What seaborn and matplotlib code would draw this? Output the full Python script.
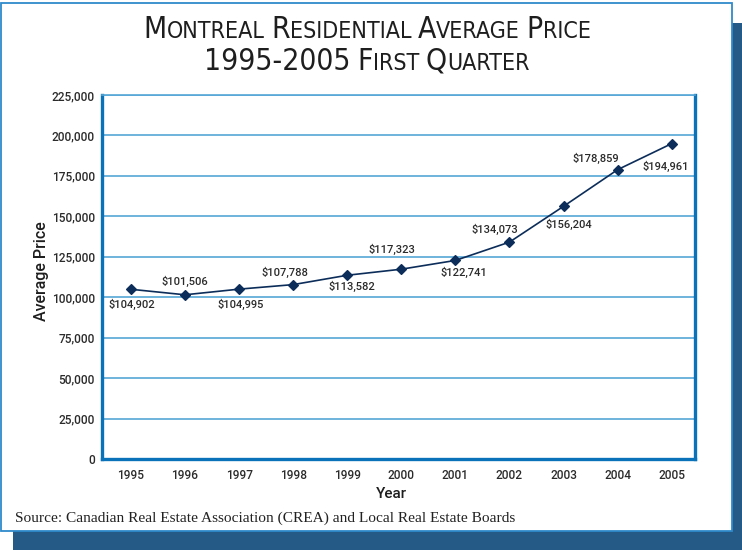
import matplotlib
matplotlib.use("Agg")
import numpy as np
import pandas as pd
import matplotlib.pyplot as plt
import matplotlib.ticker as mticker
from matplotlib import font_manager
from matplotlib.patches import Rectangle
from matplotlib.offsetbox import TextArea, HPacker, AnchoredOffsetbox
import seaborn as sns

# data
years = ['1995', '1996', '1997', '1998', '1999', '2000', '2001', '2002', '2003', '2004', '2005']
prices = [104902, 101506, 104995, 107788, 113582, 117323, 122741, 134073, 156204, 178859, 194961]
y_ticks = [0, 25000, 50000, 75000, 100000, 125000, 150000, 175000, 200000, 225000]

# label offsets in pixels (dx, dy), screen y up
offsets = [(1, -15), (0, 13), (2, -15), (-8, 12), (5, -11), (-9, 20),
           (8, -12), (-15, 13), (5, -18), (-22, 11), (-6, -23)]

sns.set_theme(style="white")
names = {f.name for f in font_manager.fontManager.ttflist}
title_font = 'Liberation Sans Narrow' if 'Liberation Sans Narrow' in names else 'DejaVu Sans'
sans = ['Roboto', 'DejaVu Sans']
plt.rcParams['font.family'] = sans

AXIS_BLUE = '#0a72b8'
GRID_BLUE = '#55a6d6'
LINE_NAVY = '#0c2d5a'
TEXT = '#2b2b2b'

fig = plt.figure(figsize=(7.42, 5.5), dpi=100)
fig.patch.set_facecolor('white')

# shadow and white frame
fig.patches.append(Rectangle((12.7 / 742, 0), 1 - 12.7 / 742, (550 - 22.7) / 550,
                             transform=fig.transFigure, facecolor='#265a86',
                             edgecolor='none', zorder=-3))
fig.patches.append(Rectangle((1 / 742, (550 - 530.7) / 550), 730.7 / 742, 528 / 550,
                             transform=fig.transFigure, facecolor='white',
                             edgecolor='#2f8acb', linewidth=1.3, zorder=-2))

ax = fig.add_axes([101.7 / 742, (550 - 459) / 550, 593.3 / 742, 364 / 550])
df = pd.DataFrame({'Year': years, 'Price': prices})
sns.pointplot(data=df, x='Year', y='Price', order=years, color=LINE_NAVY,
              markers='D', markersize=5, linewidth=1.2, errorbar=None, ax=ax)

ax.set_xlim(-0.54, 10.43)
ax.set_ylim(0, 225000)
ax.set_yticks(y_ticks)
ax.yaxis.set_major_formatter(mticker.StrMethodFormatter('{x:,.0f}'))
ax.grid(axis='y', color=GRID_BLUE, linewidth=1.2)
ax.set_axisbelow(True)

for side in ['left', 'bottom', 'right']:
    ax.spines[side].set_color(AXIS_BLUE)
    ax.spines[side].set_linewidth(2.4)
ax.spines['top'].set_color(GRID_BLUE)
ax.spines['top'].set_linewidth(1.2)

ax.tick_params(axis='y', length=4, width=1.2, color=AXIS_BLUE, pad=1,
               labelsize=8.6, labelcolor=TEXT)
ax.tick_params(axis='x', which='major', length=0, pad=7.5, labelsize=8.6, labelcolor=TEXT)
ax.set_xticks(np.arange(-0.5, 10.5, 1), minor=True)
ax.tick_params(axis='x', which='minor', length=3, width=1.2, color=AXIS_BLUE)
for lab in ax.get_xticklabels() + ax.get_yticklabels():
    lab.set_fontweight('medium')
ax.set_xlabel('')
ax.set_ylabel('')

for i, (p, (dx, dy)) in enumerate(zip(prices, offsets)):
    ax.annotate('${:,}'.format(p), (i, p), xytext=(dx, dy), textcoords='offset pixels',
                ha='center', va='center', fontsize=8, color=TEXT, fontweight='medium')

fig.text(41.5 / 742, (550 - 271) / 550, 'Average Price', rotation=90, ha='center',
         va='center', fontsize=11.5, color='#1e1e1e', fontweight='medium')
fig.text(391 / 742, (550 - 494) / 550, 'Year', ha='center', va='center',
         fontsize=11, color='#1e1e1e', fontweight='medium')
fig.text(15 / 742, (550 - 518) / 550,
         'Source: Canadian Real Estate Association (CREA) and Local Real Estate Boards',
         ha='left', va='center', fontsize=11.1, color='#222222',
         family=['Liberation Serif', 'DejaVu Serif'])


def small_caps(parts, y):
    big = dict(size=21.5, family=title_font, stretch='condensed', color='#1e1e1e')
    small = dict(size=16.7, family=title_font, stretch='condensed', color='#1e1e1e')
    children = []
    for k, (b, s) in enumerate(parts):
        if k > 0:
            children.append(TextArea(' ', textprops=small))
        children.append(TextArea(b, textprops=big))
        if s:
            children.append(TextArea(s, textprops=small))
    pack = HPacker(children=children, align='baseline', pad=0, sep=0)
    box = AnchoredOffsetbox(loc='center', child=pack, pad=0, borderpad=0, frameon=False,
                            bbox_to_anchor=(367 / 742, y), bbox_transform=fig.transFigure)
    fig.add_artist(box)


small_caps([('M', 'ONTREAL'), ('R', 'ESIDENTIAL'), ('A', 'VERAGE'), ('P', 'RICE')], 1 - 29 / 550)
small_caps([('1995-2005', ''), ('F', 'IRST'), ('Q', 'UARTER')], 1 - 61 / 550)

fig.savefig('out.png', dpi=100)
